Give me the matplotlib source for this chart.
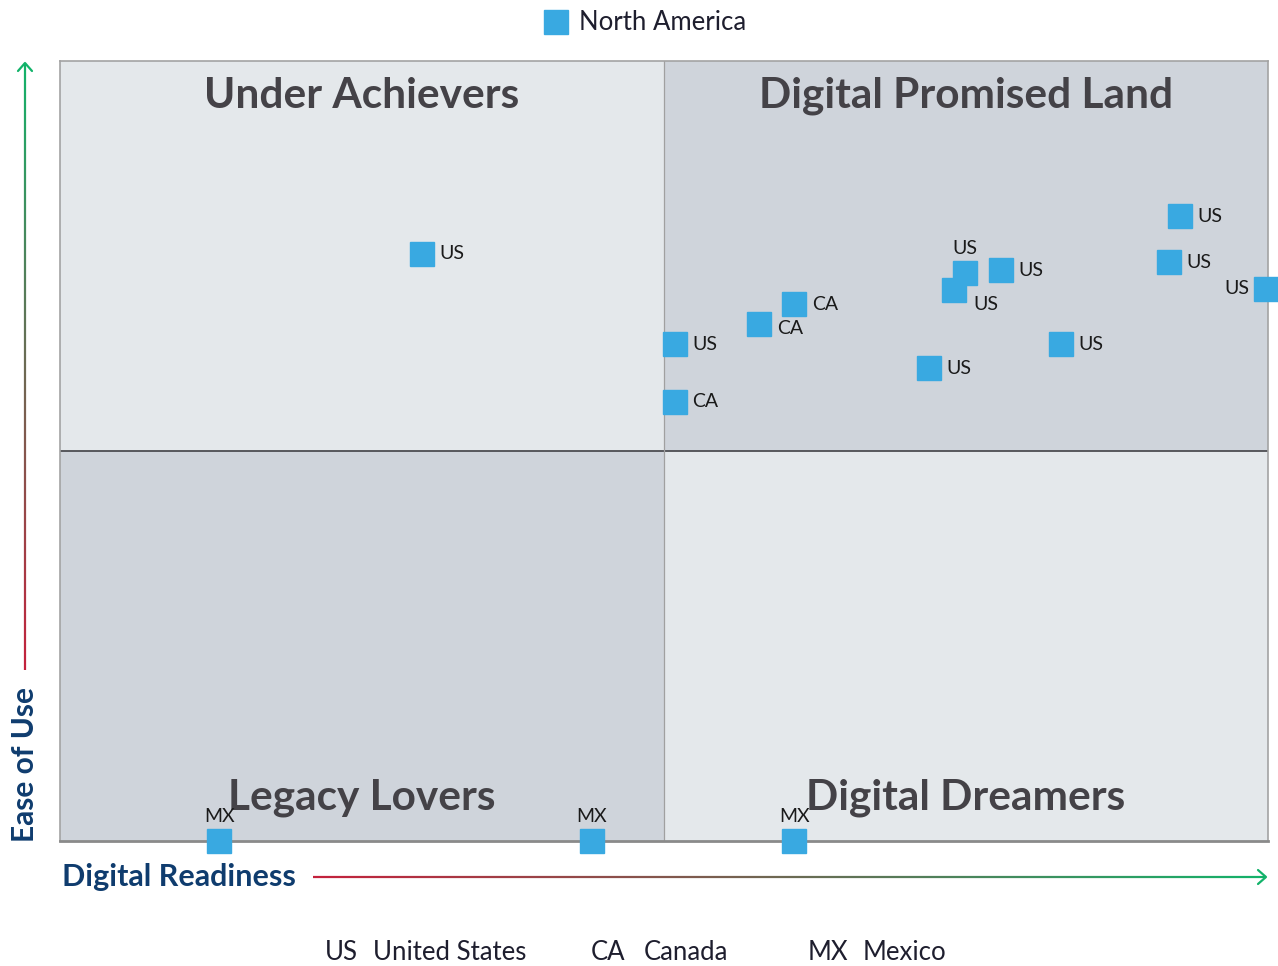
import numpy as np
import matplotlib
matplotlib.use("Agg")
import matplotlib.pyplot as plt
from matplotlib.collections import LineCollection

# ---------------- data ----------------
series_name = "North America"
countries = ["US", "US", "CA", "CA", "CA", "US", "US", "US", "US", "US", "US", "US", "US", "MX", "MX", "MX"]
digital_readiness = [30.0, 50.9, 50.9, 57.9, 60.8, 71.9, 74.0, 74.9, 77.9, 82.9, 91.8, 92.7, 99.8, 13.2, 44.0, 60.8]
ease_of_use = [75.3, 63.7, 56.3, 66.3, 68.8, 60.6, 70.6, 72.8, 73.2, 63.7, 74.2, 80.1, 70.8, 0.0, 0.0, 0.0]
label_side = ["right", "right", "right", "right_low", "right", "right", "below", "above", "right",
              "right", "right", "right", "left", "above", "above", "above"]
quadrants = ["Under Achievers", "Digital Promised Land", "Legacy Lovers", "Digital Dreamers"]
country_codes = ["US", "CA", "MX"]
country_names = ["United States", "Canada", "Mexico"]
x_label = "Digital Readiness"
y_label = "Ease of Use"

# ---------------- style ----------------
W, H = 1278, 966
FONT = ["Lato", "DejaVu Sans"]
MARKER = "#39a9e1"
LIGHT = "#e4e8eb"
DARK = "#cfd4db"
NAVY = "#0f3c6e"
TITLE = "#444247"
RED = np.array(matplotlib.colors.to_rgb("#c4213c"))
GREEN = np.array(matplotlib.colors.to_rgb("#12b36a"))

plt.rcParams["font.family"] = FONT
fig = plt.figure(figsize=(W / 100, H / 100), dpi=100)
ax = fig.add_axes([60 / W, (H - 841) / H, 1208 / W, 780 / H])
ax.set_xlim(0, 100)
ax.set_ylim(0, 100)

# quadrant backgrounds
ax.axvspan(0, 50, ymin=0.5, ymax=1, color=LIGHT, zorder=0, lw=0)
ax.axvspan(50, 100, ymin=0.5, ymax=1, color=DARK, zorder=0, lw=0)
ax.axvspan(0, 50, ymin=0, ymax=0.5, color=DARK, zorder=0, lw=0)
ax.axvspan(50, 100, ymin=0, ymax=0.5, color=LIGHT, zorder=0, lw=0)
ax.axhline(50, color="#4d4d52", lw=1.3, zorder=1)
ax.axvline(50, color="#a0a0a0", lw=0.9, zorder=1)
for side, sp in ax.spines.items():
    sp.set_color("#a3a3a3")
    sp.set_linewidth(1.2)
ax.spines["bottom"].set_color("#8a8a8a")
ax.spines["bottom"].set_linewidth(2)
ax.set_xticks([])
ax.set_yticks([])

# quadrant titles
qpos = [(25, 95.5), (75, 95.5), (25, 5.5), (75, 5.5)]
for q, (qx, qy) in zip(quadrants, qpos):
    ax.text(qx, qy, q, ha="center", va="center", fontsize=30.5, fontweight="bold",
            color=TITLE, zorder=2)

# points
ax.plot(digital_readiness, ease_of_use, ls="none", marker="s", markersize=17.3,
        color=MARKER, clip_on=False, zorder=4)

offsets = {
    "right": ((12.5, 0), "left", "center"),
    "right_low": ((12.5, -3), "left", "center"),
    "left": ((-11.5, 0), "right", "center"),
    "above": ((0, 17.5), "center", "center"),
    "below": ((14, -10), "left", "center"),
}
for c, xv, yv, s in zip(countries, digital_readiness, ease_of_use, label_side):
    (dx, dy), ha, va = offsets[s]
    ax.annotate(c, (xv, yv), xytext=(dx, dy), textcoords="offset points",
                ha=ha, va=va, fontsize=14, color="#1a1a1a", zorder=5,
                annotation_clip=False)

# overlay in pixel coordinates for decorations
ov = fig.add_axes([0, 0, 1, 1], zorder=-1)
ov.set_xlim(0, W)
ov.set_ylim(H, 0)
ov.axis("off")


def grad_line(x0, y0, x1, y1, n=200):
    t = np.linspace(0, 1, n + 1)
    xs = x0 + (x1 - x0) * t
    ys = y0 + (y1 - y0) * t
    pts = np.column_stack([xs, ys]).reshape(-1, 1, 2)
    segs = np.concatenate([pts[:-1], pts[1:]], axis=1)
    cols = [tuple(RED + (GREEN - RED) * tt) for tt in t[:-1]]
    ov.add_collection(LineCollection(segs, colors=cols, linewidths=1.6, capstyle="butt"))


# vertical arrow
grad_line(25, 670, 25, 63)
ov.plot([18, 25, 32], [71, 63, 71], color=GREEN, lw=1.6, solid_capstyle="round")
# horizontal arrow
grad_line(313, 877, 1266, 877)
ov.plot([1258, 1266, 1258], [870, 877, 884], color=GREEN, lw=1.6, solid_capstyle="round")

ov.text(25, 764, y_label, rotation=90, ha="center", va="center", fontsize=21.5,
        fontweight="bold", color=NAVY)
ov.text(62, 877, x_label, ha="left", va="center", fontsize=22, fontweight="bold", color=NAVY)

# top legend
ov.plot([556], [22], marker="s", markersize=17, color=MARKER, ls="none")
ov.text(579, 23, series_name, ha="left", va="center", fontsize=18.5, color="#1e1e2e")

# bottom legend
code_x = [325, 591, 808]
name_x = [373, 644, 863]
for code, name, x0, x1 in zip(country_codes, country_names, code_x, name_x):
    ov.text(x0, 952, code, ha="left", va="center", fontsize=18.5, color="#1e1e2e")
    ov.text(x1, 952, name, ha="left", va="center", fontsize=18.5, color="#1e1e2e")

fig.savefig("out.png", dpi=100)
